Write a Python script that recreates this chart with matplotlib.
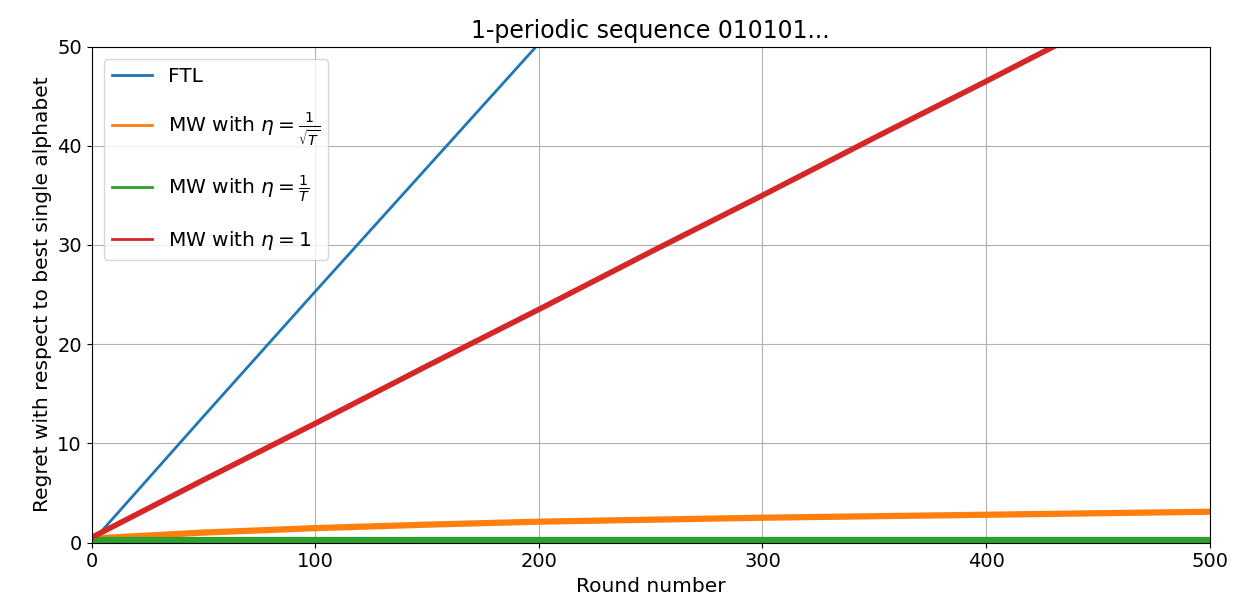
import matplotlib.pyplot as plt
import numpy as np

# values at checkpoint rounds
rounds = [0, 50, 100, 150, 200, 250, 300, 350, 400, 450, 500]
ftl = [0.0, 12.7, 25.3, 37.8, 50.3, 62.8]          # only up to round 250, clipped anyway
mw_sqrt = [0.4, 1.0, 1.45, 1.8, 2.1, 2.3, 2.5, 2.65, 2.8, 2.95, 3.1]
mw_inv = [0.3, 0.3, 0.3, 0.3, 0.3, 0.3, 0.3, 0.3, 0.3, 0.3, 0.3]
mw_one = [0.5, 6.3, 12.0, 17.8, 23.5, 29.3, 35.0, 40.8, 46.5, 52.3, 58.0]

fig, ax = plt.subplots(figsize=(12.37, 6.13), dpi=100)

ax.plot(rounds[:len(ftl)], ftl, color='#1f77b4', lw=2, label='FTL')
ax.plot(rounds, mw_sqrt, color='#ff7f0e', lw=4.5,
        label=r'MW with $\eta = \frac{1}{\sqrt{T}}$')
ax.plot(rounds, mw_inv, color='#2ca02c', lw=4.5,
        label=r'MW with $\eta = \frac{1}{T}$')
ax.plot(rounds, mw_one, color='#d62728', lw=4,
        label=r'MW with $\eta = 1$')

ax.set_xlim(0, 500)
ax.set_ylim(0, 50)
ax.set_xticks([0, 100, 200, 300, 400, 500])
ax.set_yticks([0, 10, 20, 30, 40, 50])
ax.tick_params(labelsize=14)
ax.grid(True, color='#b0b0b0', lw=0.8)
ax.set_title('1-periodic sequence 010101...', fontsize=17)
ax.set_xlabel('Round number', fontsize=14.5)
ax.set_ylabel('Regret with respect to best single alphabet', fontsize=14.5)

leg = ax.legend(loc='upper left', fontsize=14.5, labelspacing=1.25,
                borderaxespad=0.6)
for h in leg.legend_handles:
    h.set_linewidth(2)

plt.subplots_adjust(left=0.074, right=0.978, top=0.924, bottom=0.115)
plt.savefig('out.png')
